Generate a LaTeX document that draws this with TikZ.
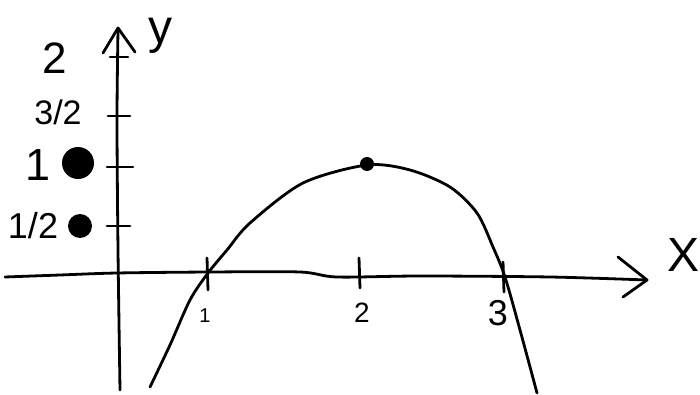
\documentclass[tikz,border=0pt]{standalone}
\usepackage{fontspec}
\setmainfont{Liberation Sans}
\begin{document}
\begin{tikzpicture}[x=1pt,y=-1pt,line width=2.8pt,line cap=round,line join=round,
  lbl/.style={inner sep=0pt,anchor=center},
  dotmark/.style={circle,fill=black,inner sep=0pt}]
\useasboundingbox (0,0) rectangle (700,395);
% x axis
\draw plot[smooth] coordinates {(5,277) (60,275) (117,273) (210,272) (300,272) (337,277) (420,276) (550,277) (647,280)};
\coordinate (xtip) at (647,280);
\draw (618,257) -- (xtip) -- (623,297);
% y axis
\draw plot[smooth] coordinates {(118,30) (117,120) (118,250) (120,390)};
\coordinate (ytip) at (118,28);
\draw (103,53) -- (ytip) -- (135,52);
% y ticks
\draw (110,57) -- (128,57);
\draw (108,116) -- (130,116);
\draw (107,167) -- (133,167);
\draw (107,226) -- (130,226);
% x ticks
\draw (207,258) -- (208,290);
\draw (359,258) -- (360,288);
\draw (503,262) -- (504,292);
% parabola
\draw plot[smooth] coordinates {(150,387) (170,345) (190,300) (208,273) (227,250) (250,223) (303,183) (367,165) (410,170) (450,187) (477,213) (493,247) (505,277) (520,330) (537,393)};
% dots
\node[dotmark,minimum size=14pt] (vtx) at (367,164) {};
\node[dotmark,minimum size=32pt] (d1) at (78,163) {};
\node[dotmark,minimum size=24pt] (dh) at (80,226) {};
% labels
\node[inner sep=0pt,anchor=base,font=\fontsize{48}{48}\selectfont] (ly) at (160,44) {y};
\node[lbl,font=\fontsize{48}{48}\selectfont] (lx) at (683,255) {X};
\node[lbl,font=\fontsize{44}{44}\selectfont] (l2) at (55,58) {2};
\node[lbl,font=\fontsize{34}{34}\selectfont] (l32) at (58,112) {3/2};
\node[lbl,font=\fontsize{45}{45}\selectfont] (l1) at (38,165) {1};
\node[lbl,font=\fontsize{36}{36}\selectfont] (l12) at (33,226) {1/2};
\node[lbl,font=\fontsize{20}{20}\selectfont] (x1) at (205,316) {1};
\node[lbl,font=\fontsize{28}{28}\selectfont] (x2) at (362,313) {2};
\node[lbl,font=\fontsize{36}{36}\selectfont] (x3) at (498,313) {3};
\end{tikzpicture}
\end{document}
